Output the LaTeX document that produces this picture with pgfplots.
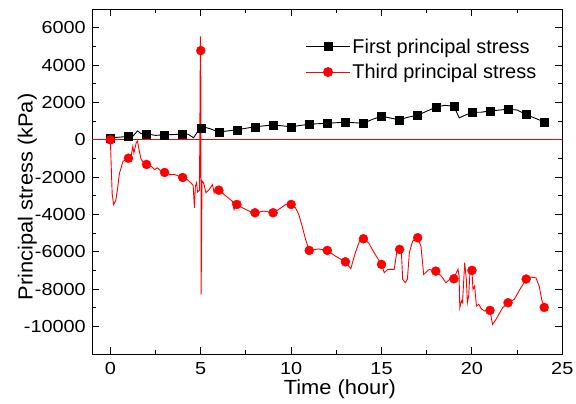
\documentclass[border=0pt]{standalone}
\usepackage{fontspec}
\setmainfont{Liberation Sans}
\newfontfamily\tickfont{Liberation Sans}[FakeStretch=1.14]
\newfontfamily\labfont{Liberation Sans}[FakeStretch=1.07]
\usepackage{pgfplots}
\pgfplotsset{compat=1.18}
\begin{document}
\begin{tikzpicture}
\begin{axis}[
  scale only axis, width=470bp, height=345bp,
  xmin=-1, xmax=25, ymin=-11500, ymax=7000,
  xtick={0,5,...,25}, ytick={-10000,-8000,...,6000},
  minor x tick num=1, minor y tick num=1,
  tick align=inside, tick pos=both,
  xticklabel pos=lower, yticklabel pos=left,
  major tick length=7bp, minor tick length=4bp,
  axis line style={line width=1.2bp},
  every tick/.append style={black, line width=1bp},
  scaled y ticks=false,
  /pgf/number format/1000 sep={},
  /pgf/number format/assume math mode=true,
  tick label style={font=\tickfont\fontsize{17.5}{20}\selectfont},
  yticklabel style={xshift=-3bp},
  xticklabel style={yshift=-4.5bp},
  label style={font=\labfont\fontsize{20.5}{24}\selectfont},
  xlabel={Time (hour)}, ylabel={Principal stress (kPa)},
  xlabel style={at={(axis description cs:0.5268,-0.116)}, anchor=base},
  ylabel style={at={(axis description cs:-0.1268,0.4565)}, anchor=base},
  legend style={at={(0.447,0.927)}, anchor=north west, draw=none, fill=none,
    font=\fontsize{20}{23}\selectfont, row sep=5.5bp,
    legend image code/.code={\draw[mark repeat=2,mark phase=2,#1] plot coordinates {(-9bp,0bp) (13bp,0bp) (35bp,0bp)};}},
  legend cell align=left,
]
% zero line
\addplot[red, line width=1bp, forget plot] coordinates {(-1,0) (25,0)};
% first principal stress, line
\addplot[black, line width=0.9bp, forget plot] coordinates {
(0,100) (1,190) (1.25,200) (1.5,480) (1.7,330) (2,320) (2.5,240) (3,270) (3.5,280) (4,320) (4.3,300) (4.6,110) (4.8,400) (5,640) (5.2,680) (5.5,600) (6,420) (7,540) (8,700) (9,800) (10,700) (11,840) (12,890) (13,945) (14,890) (14.5,1100) (15,1265) (16,1070) (16.4,1200) (17,1320) (18,1750) (18.5,1850) (19,1800) (19.3,1180) (20,1480) (20.5,1480) (21,1550) (22,1640) (22.5,1600) (23,1355) (24,960)
};
% first principal stress, marks
\addplot[black, only marks, mark=square*, mark size=4bp, forget plot] coordinates {
(0,100) (1,190) (2,320) (3,270) (4,320) (5,640) (6,420) (7,540) (8,700) (9,800) (10,700) (11,840) (12,890) (13,945) (14,890) (15,1265) (16,1070) (17,1320) (18,1750) (19,1800) (20,1480) (21,1550) (22,1640) (23,1355) (24,960)
};
\addlegendimage{black, line width=0.9bp, mark=square*, mark size=4bp}
\addlegendentry{First principal stress}
% third principal stress, line
\addplot[red, line width=0.9bp, forget plot] coordinates {
(0,0) (0.05,-1500) (0.1,-2900) (0.18,-3470) (0.3,-3250) (0.4,-2600) (0.5,-1800) (0.7,-1150) (1,-985) (1.15,-880) (1.24,-350) (1.3,-700) (1.43,-160) (1.5,-60) (1.6,-600) (1.7,-1050) (1.85,-1230) (2,-1320) (2.25,-1410) (2.45,-1600) (2.6,-1500) (2.8,-1680) (3,-1750) (3.3,-1860) (3.55,-1860) (3.8,-1950) (4,-2020) (4.25,-2130) (4.45,-2300) (4.58,-2450) (4.65,-3650) (4.7,-2500) (4.77,-2300) (4.82,-2800) (4.93,-2700) (4.98,5550) (5.0,4785) (5.02,-8290) (5.07,-2200) (5.15,-2300) (5.29,-2840) (5.47,-2660) (5.65,-2400) (5.74,-2840) (5.83,-2570) (6,-2700) (6.4,-3020) (6.75,-3290) (6.84,-3740) (7,-3465) (7.3,-3640) (7.67,-3820) (8,-3910) (8.5,-3820) (9,-3910) (9.3,-3740) (9.7,-3465) (10,-3465) (10.24,-3640) (10.42,-4000) (10.6,-4600) (10.8,-5350) (11,-5930) (11.5,-5850) (12,-5930) (12.45,-6235) (13,-6540) (13.3,-6910) (13.55,-6050) (13.82,-5340) (14,-5305) (14.28,-5520) (14.65,-6145) (15,-6680) (15.15,-7125) (15.34,-6950) (15.7,-6950) (15.84,-6050) (16,-5875) (16.1,-6050) (16.17,-7480) (16.31,-7660) (16.43,-7480) (16.54,-6050) (16.72,-5430) (17,-5250) (17.18,-5700) (17.33,-7215) (17.64,-6950) (18,-7040) (18.3,-7300) (18.56,-7660) (18.78,-7480) (19,-7450) (19.14,-7125) (19.23,-6950) (19.29,-7300) (19.33,-9000) (19.42,-8640) (19.48,-8730) (19.6,-6590) (19.69,-7480) (19.75,-8730) (19.82,-8370) (19.9,-6990) (20,-7000) (20.06,-8020) (20.15,-7840) (20.25,-8910) (20.38,-8820) (20.52,-9060) (20.7,-9180) (21,-9145) (21.14,-9900) (21.33,-9630) (21.7,-9000) (22,-8735) (22.34,-8560) (22.6,-8110) (23,-7465) (23.26,-7360) (23.54,-7400) (23.72,-7840) (23.86,-8560) (24,-8985)
};
% third principal stress, marks
\addplot[red, only marks, mark=*, mark size=4.5bp, forget plot] coordinates {
(0,0) (1,-985) (2,-1320) (3,-1750) (4,-2020) (5,4785) (6,-2700) (7,-3465) (8,-3910) (9,-3910) (10,-3465) (11,-5930) (12,-5930) (13,-6540) (14,-5305) (15,-6680) (16,-5875) (17,-5250) (18,-7040) (19,-7450) (20,-7000) (21,-9145) (22,-8735) (23,-7465) (24,-8985)
};
\addlegendimage{red, line width=0.9bp, mark=*, mark size=4.5bp}
\addlegendentry{Third principal stress}
\end{axis}
\pgfresetboundingbox
\path (current axis.south west) ++(-92.3bp,-49.7bp) rectangle ++(576bp,404bp);
\end{tikzpicture}
\end{document}
